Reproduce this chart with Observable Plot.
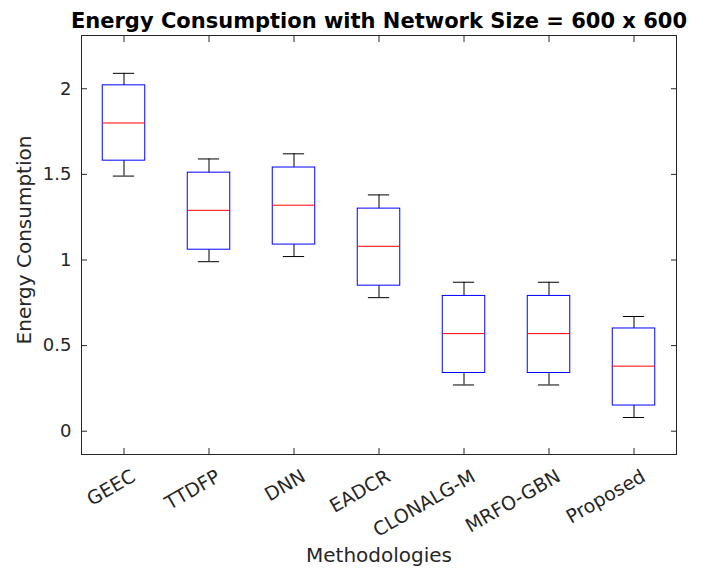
<!DOCTYPE html>
<html>
<head>
<meta charset="utf-8">
<script src="https://cdn.jsdelivr.net/npm/d3@7"></script>
<script src="https://cdn.jsdelivr.net/npm/@observablehq/plot@0.6"></script>
<style>
  html, body { margin: 0; padding: 0; background: #fff; }
  #chart svg { display: block; }
</style>
</head>
<body>
<div id="chart"></div>
<script>
const methods = ["GEEC", "TTDFP", "DNN", "EADCR", "CLONALG-M", "MRFO-GBN", "Proposed"];
const whiskerLow = [1.49, 0.99, 1.02, 0.78, 0.27, 0.27, 0.08];
const q1 = [1.58, 1.06, 1.09, 0.85, 0.34, 0.34, 0.15];
const median = [1.80, 1.29, 1.32, 1.08, 0.57, 0.57, 0.38];
const q3 = [2.02, 1.51, 1.54, 1.30, 0.79, 0.79, 0.60];
const whiskerHigh = [2.09, 1.59, 1.62, 1.38, 0.87, 0.87, 0.67];
const yTicks = [0, 0.5, 1, 1.5, 2];
const titleText = "Energy Consumption with Network Size = 600 x 600";
const xLabel = "Methodologies";
const yLabel = "Energy Consumption";

const table = methods.map((m, i) => ({
  pos: i + 1, name: m,
  lo: whiskerLow[i], q1: q1[i], med: median[i], q3: q3[i], hi: whiskerHigh[i]
}));
const xTicks = table.map(d => d.pos);
const boxHalf = 0.25, capHalf = 0.125;
const ink = "#262626";
const font = "DejaVu Sans";

const chart = Plot.plot({
  width: 702,
  height: 569,
  marginLeft: 81,
  marginRight: 26,
  marginTop: 35,
  marginBottom: 115,
  style: { fontFamily: font, background: "#fff", color: ink, overflow: "visible" },
  x: { type: "linear", domain: [0.5, 7.5] },
  y: { domain: [-0.136, 2.311] },
  marks: [
    Plot.frame({ stroke: ink, strokeWidth: 1 }),
    // inward ticks on all four sides
    Plot.axisX({ anchor: "bottom", ticks: xTicks, tickSize: -6, fill: "none", stroke: ink, label: null }),
    Plot.axisX({ anchor: "top", ticks: xTicks, tickSize: -6, fill: "none", stroke: ink, label: null }),
    Plot.axisY({ anchor: "left", ticks: yTicks, tickSize: -6, fill: "none", stroke: ink, label: null }),
    Plot.axisY({ anchor: "right", ticks: yTicks, tickSize: -6, fill: "none", stroke: ink, label: null }),
    // tick labels
    Plot.axisX({
      anchor: "bottom", ticks: xTicks, tickSize: 0, tickPadding: 14,
      tickFormat: d => methods[d - 1], tickRotate: -30,
      textAnchor: "end", lineAnchor: "top", dx: 6,
      fontSize: 19, fill: ink, label: null
    }),
    Plot.axisY({
      anchor: "left", ticks: yTicks, tickSize: 0, tickPadding: 10,
      tickFormat: d => String(d), fontSize: 18, fill: ink, label: null
    }),
    // whiskers
    Plot.ruleX(table, { x: "pos", y1: "q3", y2: "hi", stroke: "#000", strokeWidth: 1 }),
    Plot.ruleX(table, { x: "pos", y1: "lo", y2: "q1", stroke: "#000", strokeWidth: 1 }),
    Plot.ruleY(table, { y: "hi", x1: d => d.pos - capHalf, x2: d => d.pos + capHalf, stroke: "#000", strokeWidth: 1 }),
    Plot.ruleY(table, { y: "lo", x1: d => d.pos - capHalf, x2: d => d.pos + capHalf, stroke: "#000", strokeWidth: 1 }),
    // boxes
    Plot.rect(table, { x1: d => d.pos - boxHalf, x2: d => d.pos + boxHalf, y1: "q1", y2: "q3", fill: "none", stroke: "#0000ff", strokeWidth: 1 }),
    // medians
    Plot.ruleY(table, { y: "med", x1: d => d.pos - boxHalf, x2: d => d.pos + boxHalf, stroke: "#ff0000", strokeWidth: 1 }),
    // title and axis labels
    Plot.text([titleText], { frameAnchor: "top", textAnchor: "middle", lineAnchor: "bottom", dy: -8, fontSize: 21, fontWeight: "bold", fill: "#000", text: d => d }),
    Plot.text([xLabel], { frameAnchor: "bottom", textAnchor: "middle", lineAnchor: "bottom", dy: 107, fontSize: 20, fill: ink, text: d => d }),
    Plot.text([yLabel], { frameAnchor: "left", textAnchor: "middle", lineAnchor: "bottom", rotate: -90, dx: -51, dy: -5, fontSize: 20, fill: ink, text: d => d })
  ]
});
document.getElementById("chart").appendChild(chart);
</script>
</body>
</html>
